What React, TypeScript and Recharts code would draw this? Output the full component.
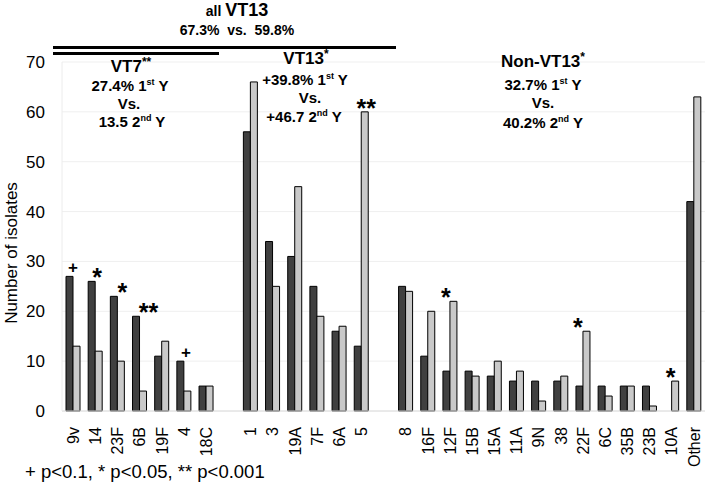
import { ComposedChart, Bar, XAxis, YAxis, CartesianGrid, LabelList } from "recharts";

// serotypes, blank entries are the spacer columns between groups
const serotypes = [
  "9v", "14", "23F", "6B", "19F", "4", "18C", " ",
  "1", "3", "19A", "7F", "6A", "5", "  ",
  "8", "16F", "12F", "15B", "15A", "11A", "9N", "38", "22F", "6C", "35B", "23B", "10A", "Other",
];
const year1 = [27, 26, 23, 19, 11, 10, 5, null, 56, 34, 31, 25, 16, 13, null, 25, 11, 8, 8, 7, 6, 6, 6, 5, 5, 5, 5, 0, 42];
const year2 = [13, 12, 10, 4, 14, 4, 5, null, 66, 25, 45, 19, 17, 60, null, 24, 20, 22, 7, 10, 8, 2, 7, 16, 3, 5, 1, 6, 63];
const signif = ["+", "*", "*", "**", "", "+", "", "", "", "", "", "", "", "**", "", "", "", "*", "", "", "", "", "", "*", "", "", "", "*", ""];
const yTicks = [0, 10, 20, 30, 40, 50, 60, 70];

const data = serotypes.map((s, i) => ({ name: s, y1: year1[i], y2: year2[i], sig: signif[i] }));

// small nudges so the symbols sit where they are in the original
const SIG_DX: Record<string, number> = { "9v": 0, "14": 2, "23F": 5, "6B": 9, "4": 2, "5": 5, "12F": -4, "22F": -5, "10A": -1 };

const FONT = "'Liberation Sans', Arial, sans-serif";

const XTick = ({ x, y, payload }: any) => (
  <text
    x={x}
    y={y}
    transform={`rotate(-90, ${x}, ${y})`}
    textAnchor="end"
    dy="0.36em"
    fontSize={16}
    fontFamily={FONT}
    fill="#000"
  >
    {payload.value}
  </text>
);

// label is attached to whichever bar of the pair is taller
const sigLabel = (which: "y1" | "y2") => (props: any) => {
  const { x, y, width, value } = props;
  const d = data.find((e) => e.name === value);
  if (!d || !d.sig) return null;
  const a = d.y1 ?? 0;
  const b = d.y2 ?? 0;
  if (which === "y1" && a < b) return null;
  if (which === "y2" && b <= a) return null;
  const center = which === "y1" ? x + width : x;
  const cx = center + (SIG_DX[d.name] ?? 0);
  const plus = d.sig === "+";
  return (
    <text
      x={cx}
      y={plus ? y - 3 : y + 5}
      textAnchor="middle"
      fontSize={plus ? 17 : 25}
      fontWeight="bold"
      fontFamily={FONT}
      fill="#000"
    >
      {d.sig}
    </text>
  );
};

export default function App() {
  return (
    <div style={{ position: "absolute", left: 0, top: 0, width: 709, height: 487, background: "#fff" }}>
      <ComposedChart
        width={709}
        height={487}
        data={data}
        margin={{ top: 62, right: 4, bottom: 16, left: 0 }}
        barGap={0}
        barSize={7}
      >
        <CartesianGrid vertical={false} stroke="#efefef" />
        <XAxis
          dataKey="name"
          interval={0}
          tick={<XTick />}
          tickSize={0}
          tickMargin={16}
          height={60}
          axisLine={{ stroke: "#dcdcdc" }}
        />
        <YAxis
          domain={[0, 70]}
          ticks={yTicks}
          width={62}
          tickSize={0}
          tickMargin={17}
          axisLine={{ stroke: "#ececec" }}
          tick={{ fontSize: 17, fill: "#000", fontFamily: FONT }}
        />
        <Bar dataKey="y1" fill="#404040" stroke="#000" strokeWidth={1} isAnimationActive={false}>
          <LabelList dataKey="name" content={sigLabel("y1")} />
        </Bar>
        <Bar dataKey="y2" fill="#c9c9c9" stroke="#000" strokeWidth={1} isAnimationActive={false}>
          <LabelList dataKey="name" content={sigLabel("y2")} />
        </Bar>
      </ComposedChart>

      <svg
        width={709}
        height={487}
        style={{ position: "absolute", left: 0, top: 0, pointerEvents: "none" }}
        fontFamily={FONT}
      >
        <g fontWeight="bold" textAnchor="middle">
          <text x={237} y={16}>
            <tspan fontSize={14}>all </tspan>
            <tspan fontSize={18}>VT13</tspan>
          </text>
          <text x={237} y={35} fontSize={14}>{"67.3%\u00a0\u00a0vs.\u00a0\u00a059.8%"}</text>

          <line x1={53} x2={396} y1={47.5} y2={47.5} stroke="#000" strokeWidth={3} />
          <line x1={53} x2={219} y1={53.5} y2={53.5} stroke="#000" strokeWidth={3} />

          <text x={131} y={72} fontSize={17}>
            VT7<tspan fontSize={12} dy={-6}>**</tspan>
          </text>
          <text x={130} y={91} fontSize={15}>
            27.4% 1<tspan fontSize={9} dy={-6}>st</tspan><tspan dy={6}> Y</tspan>
          </text>
          <text x={129} y={109} fontSize={15}>Vs.</text>
          <text x={132} y={127} fontSize={15}>
            13.5 2<tspan fontSize={9} dy={-6}>nd</tspan><tspan dy={6}> Y</tspan>
          </text>

          <text x={306} y={64} fontSize={17}>
            VT13<tspan fontSize={12} dy={-6}>*</tspan>
          </text>
          <text x={305} y={85} fontSize={15}>
            +39.8% 1<tspan fontSize={9} dy={-6}>st</tspan><tspan dy={6}> Y</tspan>
          </text>
          <text x={310} y={103} fontSize={15}>Vs.</text>
          <text x={304} y={122} fontSize={15}>
            +46.7 2<tspan fontSize={9} dy={-6}>nd</tspan><tspan dy={6}> Y</tspan>
          </text>

          <text x={543} y={67} fontSize={17}>
            Non-VT13<tspan fontSize={12} dy={-6}>*</tspan>
          </text>
          <text x={543} y={90} fontSize={15}>
            32.7% 1<tspan fontSize={9} dy={-6}>st</tspan><tspan dy={6}> Y</tspan>
          </text>
          <text x={543} y={108} fontSize={15}>Vs.</text>
          <text x={543} y={128} fontSize={15}>
            40.2% 2<tspan fontSize={9} dy={-6}>nd</tspan><tspan dy={6}> Y</tspan>
          </text>
        </g>

        <text x={11} y={253} transform="rotate(-90, 11, 253)" textAnchor="middle" dy="0.36em" fontSize={17}>
          Number of isolates
        </text>
        <text x={25} y={478} fontSize={18.5}>+ p&lt;0.1, * p&lt;0.05, ** p&lt;0.001</text>
      </svg>
    </div>
  );
}
